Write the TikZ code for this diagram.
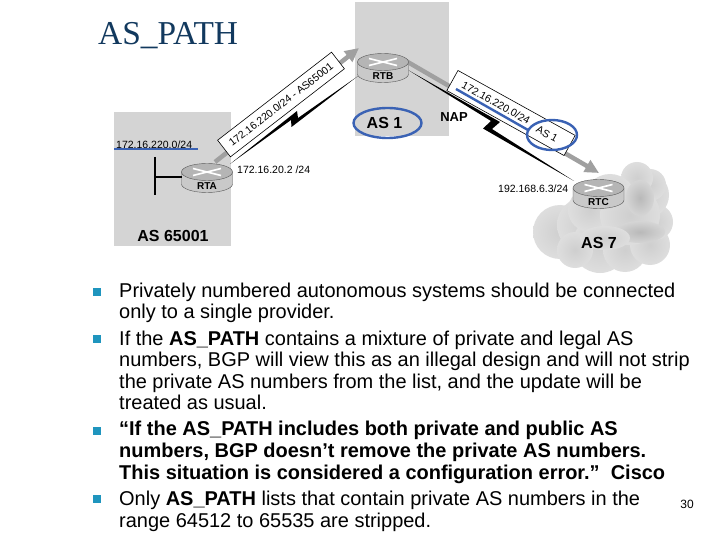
\documentclass[tikz,border=0pt]{standalone}
\usepackage{fontspec}
\setmainfont{Liberation Sans}
\newfontfamily\titlefont{Liberation Serif}
\usetikzlibrary{arrows.meta}
\definecolor{boxgray}{HTML}{D4D4D4}
\definecolor{planblue}{HTML}{3A62B4}
\definecolor{flowgray}{HTML}{A0A0A0}
\definecolor{bullteal}{HTML}{1F95BE}
\definecolor{titlenavy}{HTML}{12395E}
\tikzset{
  x=1pt,y=-1pt,
  asbox/.style={fill=boxgray,draw=none},
  bodytext/.style={anchor=base west,inner sep=0pt,font=\fontsize{19.97}{20}\selectfont},
  bul/.style={fill=bullteal,draw=none,minimum size=8.5pt,inner sep=0pt},
  smalltext/.style={inner sep=0pt,font=\fontsize{10.5}{12}\selectfont},
  asname/.style={inner sep=0pt,font=\bfseries\fontsize{16}{17}\selectfont},
  tagbox/.style={draw=black,line width=.6pt,fill=white,inner sep=0pt},
  flowline/.style={draw=flowgray,line width=4.5pt,-{Triangle[length=14pt,width=13pt]}},
  boltfill/.style={fill=black,draw=none},
  bluemark/.style={draw=planblue,line width=2.4pt},
  puff/.style={inner color=gray!38!white,outer color=gray!26!white},
  darkpuff/.style={inner color=gray!55!white,outer color=gray!33!white},
}
\newcommand{\routerico}[3]{%
  \fill[gray!42!white,draw=black!65,line width=.4pt] (#1-25.5,#2) -- (#1-25.5,#2+12) arc[x radius=25.5,y radius=-8.5,start angle=180,end angle=360] -- (#1+25.5,#2) -- cycle;
  \fill[gray!58!white,draw=black!65,line width=.4pt] (#1,#2) ellipse[x radius=25.5,y radius=8.5];
  \draw[white,line width=1.6pt] (#1-14,#2-3.5) -- (#1+14,#2+3.5) (#1-14,#2+3.5) -- (#1+14,#2-3.5);
  \node[inner sep=0pt,font=\bfseries\fontsize{10}{10}\selectfont] (#3) at (#1,#2+14.5) {#3};
}
\begin{document}
\begin{tikzpicture}
\useasboundingbox (0,0) rectangle (720,540);
\fill[white] (0,0) rectangle (720,540);
\node[anchor=base west,inner sep=0pt,text=titlenavy,font=\titlefont\fontsize{33.4}{34}\selectfont] (title) at (98,45) {AS\_PATH};
% AS areas
\fill[asbox] (114,112) rectangle (231,246);
\fill[asbox] (355,2) rectangle (449,136);
% cloud
\foreach \cx/\cy/\r in {560/232/27,585/225/28,600/245/28,625/250/22,575/250/18,650/245/20,655/222/18,645/195/24,650/185/16,637/178/16,610/200/26,590/210/22,630/215/30}{
  \shade[puff] (\cx,\cy) circle[radius=\r];
}
\shade[darkpuff] (640,198) ellipse[x radius=14,y radius=18];
\shade[darkpuff] (640,232) ellipse[x radius=25,y radius=11];
\shade[puff] (605,238) ellipse[x radius=25,y radius=12];
% anchors for connectors
\coordinate (rtaout) at (215,162);
\coordinate (rtbin) at (359,48);
\coordinate (rtbout) at (406,61);
\coordinate (rtcin) at (599,173);
\coordinate (rtaser) at (230,164);
\coordinate (rtbser) at (358,76);
\coordinate (rtbser2) at (408,70);
\coordinate (rtcser) at (574,181);
% flows
\draw[flowline] (rtaout) -- (rtbin);
\draw[flowline] (rtbout) -- (rtcin);
% serial links
\fill[boltfill] (rtaser) -- (297,111) -- (298,118) -- (rtbser) -- (291.5,127) -- (291,120) -- cycle;
\fill[boltfill] (rtbser2) -- (500,122) -- (492,129) -- (rtcser) -- (483,128.5) -- (491,121) -- cycle;
% LAN
\coordinate (lantop) at (155,157);
\coordinate (lanbot) at (155,195);
\coordinate (lanmid) at (155,177);
\draw[black,line width=1.3pt] (lantop) -- (lanbot);
% routers
\routerico{207}{172}{RTA}
\routerico{383}{62}{RTB}
\routerico{598.5}{188}{RTC}
\draw[black,line width=1.3pt] (lanmid) -- (182,177);
% tags
\node[tagbox,rotate=37.7,minimum width=144pt,minimum height=21pt,font=\fontsize{10.5}{12}\selectfont] (tagone) at (281,104.5) {172.16.220.0/24 - AS65001};
\node[tagbox,rotate=-29,minimum width=134pt,minimum height=23pt] (tagtwo) at (511,113) {};
\node[smalltext,rotate=-29] (prefix) at (496,103) {172.16.220.0/24};
\node[smalltext,rotate=-29] (asone) at (547,134) {AS 1};
% labels
\node[smalltext,anchor=west] (lanlabel) at (116,145) {172.16.220.0/24};
\node[smalltext,anchor=west] (rtaaddr) at (237,170) {172.16.20.2 /24};
\node[smalltext,anchor=west] (rtcaddr) at (498,189) {192.168.6.3/24};
\node[asname] (asa) at (173,236) {AS 65001};
\node[asname] (asb) at (384.5,123) {AS 1};
\node[inner sep=0pt,font=\bfseries\fontsize{13}{14}\selectfont] (nap) at (454,117) {NAP};
\node[asname] (asc) at (599,243) {AS 7};
% blue markup
\draw[bluemark] (114,149) -- (198,149);
\draw[bluemark] (456,89) -- (528,130);
\draw[bluemark] (387.5,123) ellipse[x radius=34,y radius=15];
\draw[bluemark] (552,135) ellipse[x radius=25,y radius=15];
% bullets
\node[bul] (ba) at (97,292) {};
\node[bul] (bb) at (97,339) {};
\node[bul] (bc) at (97,431) {};
\node[bul] (bd) at (97,499) {};
% text
\node[bodytext] (l1) at (119,297) {Privately numbered autonomous systems should be connected};
\node[bodytext] (l2) at (119,318.5) {only to a single provider.};
\node[bodytext] (l3) at (119,345) {If the \textbf{AS\_PATH} contains a mixture of private and legal AS};
\node[bodytext] (l4) at (119,366.5) {numbers, BGP will view this as an illegal design and will not strip};
\node[bodytext] (l5) at (119,388) {the private AS numbers from the list, and the update will be};
\node[bodytext] (l6) at (119,409.5) {treated as usual.};
\node[bodytext] (l7) at (119,435.5) {\textbf{“If the AS\_PATH includes both private and public AS}};
\node[bodytext] (l8) at (119,457.5) {\textbf{numbers, BGP doesn't remove the private AS numbers.}};
\node[bodytext] (l9) at (119,479.5) {\textbf{This situation is considered a configuration error.”\ \ Cisco}};
\node[bodytext] (l10) at (119,505.5) {Only \textbf{AS\_PATH} lists that contain private AS numbers in the};
\node[bodytext] (l11) at (119,527.5) {range 64512 to 65535 are stripped.};
\node[inner sep=0pt,font=\fontsize{12}{12}\selectfont] (page) at (687,504) {30};
\end{tikzpicture}
\end{document}
